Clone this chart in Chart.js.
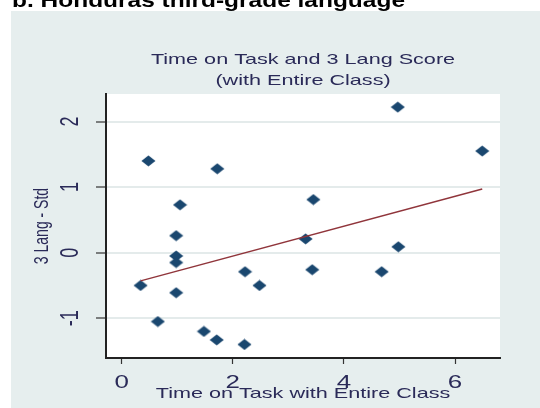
<!DOCTYPE html>
<html>
<head>
<meta charset="utf-8">
<script src="https://cdn.jsdelivr.net/npm/chart.js@4/dist/chart.umd.min.js"></script>
<style>
  html, body { margin: 0; padding: 0; background: #ffffff; }
  #wrap { position: relative; width: 540px; height: 408px; }
</style>
</head>
<body>
<div id="wrap"><canvas id="c" width="540" height="408"></canvas></div>
<script>
// ---- data ----
const timeOnTask = [0.48, 1.72, 1.05, 0.98, 0.98, 0.98, 2.22, 3.31, 3.45, 3.43, 4.97, 6.49, 4.98, 4.68, 0.34, 0.98, 2.48, 0.65, 1.48, 1.71, 2.21];
const langScore  = [1.40, 1.28, 0.73, 0.26, -0.05, -0.15, -0.29, 0.21, 0.81, -0.26, 2.22, 1.55, 0.09, -0.29, -0.50, -0.61, -0.50, -1.05, -1.20, -1.33, -1.40];
const fitX = [0.34, 6.49];
const fitY = [-0.43, 0.97];
const xTickValues = [0, 2, 4, 6];
const yTickValues = [-1, 0, 1, 2];
const xTickLabels = ['0', '2', '4', '6'];
const yTickLabels = ['-1', '0', '1', '2'];
const heading = 'b. Honduras third-grade language';
const titleLines = ['Time on Task and 3 Lang Score', '(with Entire Class)'];
const xTitle = 'Time on Task with Entire Class';
const yTitle = '3 Lang - Std';

// ---- styling ----
const SX = 1.44;              // horizontal stretch of the source picture
const FONT = '"Liberation Sans", Arial, sans-serif';
const TEXT_COLOR = '#2a2a58';
const PANEL = '#e6eeee';

// stretched diamond marker
const marker = document.createElement('canvas');
marker.width = 15; marker.height = 12;
(function () {
  const m = marker.getContext('2d');
  m.fillStyle = '#1a476f';
  m.beginPath();
  m.moveTo(7.5, 0.5);
  m.lineTo(14.5, 6);
  m.lineTo(7.5, 11.5);
  m.lineTo(0.5, 6);
  m.closePath();
  m.fill();
})();

function drawText(ctx, s, x, y, size, opts) {
  opts = opts || {};
  ctx.save();
  ctx.translate(x, y);
  ctx.scale(opts.sx || SX, 1);
  if (opts.rot) ctx.rotate(opts.rot);
  ctx.font = (opts.weight || 'normal') + ' ' + size + 'px ' + (opts.family || FONT);
  ctx.fillStyle = opts.color || TEXT_COLOR;
  ctx.textAlign = opts.align || 'center';
  ctx.textBaseline = opts.baseline || 'alphabetic';
  ctx.fillText(s, 0, 0);
  ctx.restore();
}

const decor = {
  id: 'decor',
  beforeDraw(chart) {
    const ctx = chart.ctx, a = chart.chartArea;
    ctx.save();
    ctx.fillStyle = '#ffffff';
    ctx.fillRect(0, 0, chart.width, chart.height);
    ctx.fillStyle = PANEL;
    ctx.fillRect(11, 11, chart.width - 11, chart.height - 11);
    ctx.fillStyle = '#ffffff';
    ctx.fillRect(a.left, a.top, a.right - a.left, a.bottom - a.top);
    ctx.restore();
  },
  afterDraw(chart) {
    const ctx = chart.ctx, a = chart.chartArea;
    const xs = chart.scales.x, ys = chart.scales.y;
    const cx = (a.left + a.right) / 2;
    // heading (cut at top)
    ctx.save();
    ctx.font = 'bold 21px ' + FONT;
    const hw = ctx.measureText(heading).width;
    ctx.restore();
    drawText(ctx, heading, 12, 7, 21, { weight: 'bold', color: '#000000', align: 'left', sx: 393 / hw });
    // chart title
    drawText(ctx, titleLines[0], cx, 64, 15);
    drawText(ctx, titleLines[1], cx, 85, 15);
    // x tick labels
    xTickValues.forEach((v, i) => {
      drawText(ctx, xTickLabels[i], xs.getPixelForValue(v), 388, 18);
    });
    // y tick labels (rotated)
    yTickValues.forEach((v, i) => {
      drawText(ctx, yTickLabels[i], 71, ys.getPixelForValue(v), 18, { rot: -Math.PI / 2, baseline: 'middle' });
    });
    // axis titles
    drawText(ctx, xTitle, cx, 398, 15);
    drawText(ctx, yTitle, 42, (a.top + a.bottom) / 2, 14, { rot: -Math.PI / 2, baseline: 'middle' });
  }
};

new Chart(document.getElementById('c'), {
  type: 'scatter',
  data: {
    datasets: [
      {
        type: 'line',
        data: fitX.map((x, i) => ({ x: x, y: fitY[i] })),
        borderColor: '#90353b',
        borderWidth: 1.5,
        pointRadius: 0,
        fill: false
      },
      {
        data: timeOnTask.map((x, i) => ({ x: x, y: langScore[i] })),
        pointStyle: marker,
        pointRadius: 7,
        backgroundColor: '#1a476f',
        borderColor: '#1a476f'
      }
    ]
  },
  plugins: [decor],
  options: {
    responsive: false,
    animation: false,
    events: [],
    layout: { padding: { left: 0, right: 40, top: 94, bottom: 0 }, autoPadding: false },
    plugins: { legend: { display: false }, tooltip: { enabled: false }, title: { display: false } },
    scales: {
      x: {
        type: 'linear',
        min: -0.283,
        max: 6.81,
        afterBuildTicks(s) { s.ticks = xTickValues.map(v => ({ value: v })); },
        afterFit(s) { s.height = 50; },
        ticks: { display: false, includeBounds: false },
        grid: { drawOnChartArea: false, drawTicks: true, tickLength: 6, tickColor: '#333333', tickWidth: 1.2 },
        border: { display: true, color: '#222222', width: 2 }
      },
      y: {
        type: 'linear',
        min: -1.606,
        max: 2.42,
        afterBuildTicks(s) { s.ticks = yTickValues.map(v => ({ value: v })); },
        afterFit(s) { s.width = 106; },
        ticks: { display: false, includeBounds: false },
        grid: { drawOnChartArea: true, color: '#e4ebeb', lineWidth: 2, drawTicks: true, tickLength: 10, tickColor: '#333333', tickWidth: 1.2 },
        border: { display: true, color: '#222222', width: 2 }
      }
    }
  }
});
</script>
</body>
</html>
